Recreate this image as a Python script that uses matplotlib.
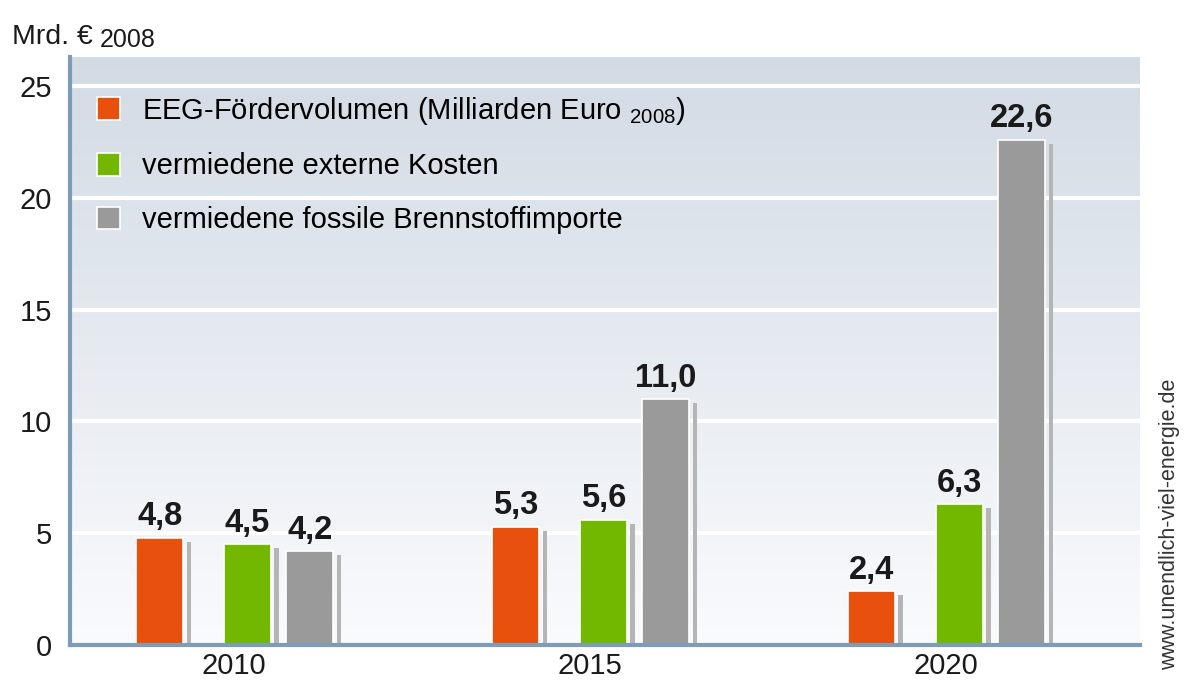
import numpy as np
import matplotlib
matplotlib.use("Agg")
import matplotlib.pyplot as plt
from matplotlib.patches import Patch

plt.rcParams["font.family"] = ["Liberation Sans", "DejaVu Sans"]
plt.rcParams["mathtext.fontset"] = "custom"
plt.rcParams["mathtext.rm"] = "Liberation Sans"

# Daten
years = ["2010", "2015", "2020"]
eeg = [4.8, 5.3, 2.4]
extern = [4.5, 5.6, 6.3]
fossil = [4.2, 11.0, 22.6]
series_names = [
    "EEG-Fördervolumen (Milliarden Euro $_{\\mathrm{2008}}$)",
    "vermiedene externe Kosten",
    "vermiedene fossile Brennstoffimporte",
]
colors = ["#e8500e", "#72b800", "#9a9a9a"]
offsets = [-0.209, 0.038, 0.213]
width = 0.132

fig = plt.figure(figsize=(11.84, 6.8), dpi=100)
ax = fig.add_axes([70 / 1184, 1 - 645 / 680, (1140 - 70) / 1184, (645 - 57) / 680])

ymax = 26.3
xlim = (-0.461, 2.545)
ax.set_xlim(*xlim)
ax.set_ylim(0, ymax)

# Hintergrundverlauf (unten hell, oben blaugrau)
grad = np.linspace(0, 1, 256).reshape(-1, 1, 1)
top = np.array([0.825, 0.857, 0.895])
bot = np.array([0.98, 0.984, 0.992])
img = bot + (top - bot) * grad
ax.imshow(img, extent=(xlim[0], xlim[1], 0, ymax), aspect="auto",
          origin="lower", zorder=0)

for y in range(5, 26, 5):
    ax.axhline(y, color="white", lw=3, zorder=1)

x = np.arange(len(years))
for vals, col, off in zip([eeg, extern, fossil], colors, offsets):
    pos = x + off
    # Schatten
    ax.bar(pos + width / 2 + 0.016, [v - 0.18 for v in vals], width=0.013,
           color="#b5b5b5", zorder=2)
    ax.bar(pos, vals, width=width, color=col, edgecolor="white", lw=1.2, zorder=3)
    for p, v in zip(pos, vals):
        ax.annotate(f"{v:.1f}".replace(".", ","), (p, v), xytext=(0, 4),
                    textcoords="offset points", ha="center", va="bottom",
                    fontsize=23.5, fontweight="bold", color="#1a1a1a", zorder=4)

ax.set_xticks(x)
ax.set_xticklabels(years)
ax.set_yticks(range(0, 26, 5))
ax.tick_params(length=0, labelsize=21, colors="#1a1a1a")
ax.tick_params(axis="y", pad=13)
ax.tick_params(axis="x", pad=5)
for s in ["top", "right"]:
    ax.spines[s].set_visible(False)
for s in ["left", "bottom"]:
    ax.spines[s].set_color("#7d9cb8")
    ax.spines[s].set_linewidth(3)
    ax.spines[s].set_zorder(5)

handles = [Patch(facecolor=c, edgecolor="white", lw=1.2) for c in colors]
ax.legend(handles, series_names, loc="upper left", bbox_to_anchor=(0.0144, 0.956),
          frameon=False, fontsize=21, handlelength=0.8, handleheight=0.8,
          handletextpad=0.75, labelspacing=0.89, borderaxespad=0)

fig.text(12 / 1184, 1 - 37 / 680, "Mrd. €", fontsize=20.5,
         va="center", ha="left", color="#1a1a1a")
fig.text(100 / 1184, 1 - 40 / 680, "2008", fontsize=18,
         va="center", ha="left", color="#1a1a1a")
fig.text(1170 / 1184, 1 - 524 / 680, "www.unendlich-viel-energie.de",
         rotation=90, fontsize=15.5, va="center", ha="center", color="#333333")

fig.savefig("out.png", dpi=100, facecolor="white")
